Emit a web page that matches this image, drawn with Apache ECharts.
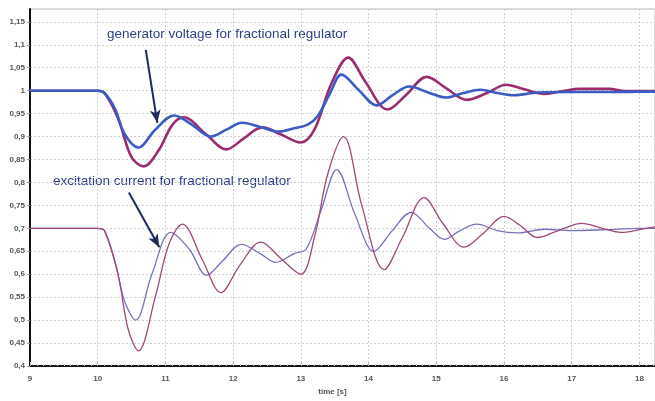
<!DOCTYPE html>
<html>
<head>
<meta charset="utf-8">
<script src="https://cdn.jsdelivr.net/npm/echarts@6/dist/echarts.min.js"></script>
<style>html,body{margin:0;padding:0;background:#fff}#c{width:655px;height:401px}</style>
</head>
<body>
<div id="c"></div>
<script>
// time [s] and values
const voltageBlue = [
  [9,1.0],[10.0,1.0],[10.1,0.995],[10.25,0.962],[10.4,0.905],[10.6,0.876],[10.85,0.915],[11.13,0.946],
  [11.4,0.925],[11.67,0.900],[11.9,0.915],[12.13,0.930],[12.4,0.921],[12.68,0.911],[12.9,0.918],[13.1,0.926],
  [13.25,0.945],[13.42,0.991],[13.6,1.035],[13.85,1.002],[14.12,0.968],[14.35,0.990],[14.6,1.009],[14.9,0.995],
  [15.15,0.985],[15.4,0.995],[15.65,1.002],[15.9,0.995],[16.15,0.990],[16.5,0.996],[17.0,0.997],[17.5,0.997],
  [18.0,0.998],[18.23,0.998]
];
const voltagePurple = [
  [9,1.0],[10.0,1.0],[10.1,0.995],[10.3,0.94],[10.5,0.855],[10.68,0.835],[10.9,0.87],[11.1,0.925],[11.27,0.942],
  [11.6,0.905],[11.9,0.872],[12.15,0.895],[12.43,0.920],[12.7,0.905],[13.0,0.887],[13.2,0.915],[13.45,1.015],
  [13.7,1.072],[13.95,1.020],[14.28,0.959],[14.55,0.990],[14.86,1.030],[15.15,1.005],[15.45,0.980],[15.75,0.995],
  [16.03,1.013],[16.3,1.003],[16.6,0.993],[16.9,1.0],[17.1,1.004],[17.55,1.004],[17.8,0.999],[18.23,0.999]
];
const currentBlue = [
  [9,0.7],[10.0,0.7],[10.1,0.695],[10.25,0.63],[10.4,0.54],[10.56,0.50],[10.8,0.60],[11.08,0.691],[11.35,0.655],
  [11.61,0.598],[11.85,0.630],[12.12,0.665],[12.4,0.645],[12.63,0.626],[12.9,0.645],[13.08,0.655],[13.3,0.74],
  [13.53,0.828],[13.8,0.73],[14.08,0.650],[14.35,0.695],[14.63,0.735],[14.9,0.700],[15.12,0.676],[15.35,0.695],
  [15.6,0.709],[15.9,0.695],[16.2,0.690],[16.6,0.698],[17.0,0.695],[17.5,0.697],[18.0,0.700],[18.23,0.700]
];
const currentPurple = [
  [9,0.7],[10.0,0.7],[10.1,0.695],[10.3,0.60],[10.45,0.48],[10.6,0.433],[10.85,0.55],[11.05,0.665],[11.25,0.709],
  [11.55,0.630],[11.82,0.560],[12.1,0.620],[12.41,0.670],[12.7,0.635],[13.0,0.600],[13.2,0.68],[13.4,0.82],
  [13.63,0.900],[13.9,0.75],[14.23,0.610],[14.5,0.68],[14.82,0.767],[15.1,0.71],[15.41,0.659],[15.7,0.69],
  [16.0,0.726],[16.25,0.705],[16.49,0.680],[16.8,0.695],[17.15,0.711],[17.45,0.700],[17.73,0.691],[18.0,0.697],[18.23,0.703]
];
const voltageArrow = [[10.71,1.089],[10.88,0.930]];
const currentArrow = [[10.46,0.778],[10.91,0.659]];
const labelVoltage = 'generator voltage for fractional regulator';
const labelCurrent = 'excitation current for fractional regulator';
const xName = 'time [s]';

const chart = echarts.init(document.getElementById('c'));
const fmt = v => String(+(+v).toFixed(2)).replace('.', ',');
const arrowLine = (pts) => ({
  silent: true, symbol: ['none', 'arrow'], symbolSize: [8, 13],
  lineStyle: {color: '#1f2a5c', width: 2, type: 'solid'}, label: {show: false},
  data: [[{coord: pts[0]}, {coord: pts[1]}]]
});
chart.setOption({
  animation: false,
  backgroundColor: '#fff',
  grid: {left: 30, right: 0, top: 9, bottom: 34, show: true, borderColor: '#b8b8b8', borderWidth: 1},
  xAxis: {
    type: 'value', min: 9, max: 18.23, interval: 1,
    name: xName, nameLocation: 'middle', nameGap: 22,
    nameTextStyle: {fontSize: 8, color: '#555', fontWeight: 'bold', padding: [0, 20, 0, 0]},
    axisLine: {show: true, onZero: false, lineStyle: {color: '#111', width: 2}},
    axisTick: {show: true, inside: true, length: 4, lineStyle: {color: '#bbb'}},
    minorTick: {show: true, splitNumber: 10, length: 2, lineStyle: {color: '#ccc'}},
    axisLabel: {fontSize: 8, color: '#555', fontWeight: 'bold', margin: 9, showMaxLabel: false},
    splitLine: {show: true, lineStyle: {color: '#cfcfcf', type: [2, 2]}}
  },
  yAxis: {
    type: 'value', min: 0.4, max: 1.178, interval: 0.05,
    axisLine: {show: true, onZero: false, lineStyle: {color: '#111', width: 2}},
    axisTick: {show: true, length: 3, lineStyle: {color: '#999'}},
    axisLabel: {fontSize: 8, color: '#555', fontWeight: 'bold', margin: 5, showMaxLabel: false, formatter: fmt},
    splitLine: {show: true, lineStyle: {color: '#cfcfcf', type: [2, 2]}}
  },
  series: [
    {type: 'line', data: currentBlue, showSymbol: false, smooth: 0.35, lineStyle: {color: '#7472bd', width: 1.3}, z: 2},
    {type: 'line', data: currentPurple, showSymbol: false, smooth: 0.35, lineStyle: {color: '#a0487a', width: 1.3}, z: 2,
      markLine: arrowLine(currentArrow)},
    {type: 'line', data: voltagePurple, showSymbol: false, smooth: 0.35, lineStyle: {color: '#982c6e', width: 2.6}, z: 3},
    {type: 'line', data: voltageBlue, showSymbol: false, smooth: 0.35, lineStyle: {color: '#3a5cc4', width: 2.6}, z: 4,
      markLine: arrowLine(voltageArrow)}
  ],
  graphic: [
    {type: 'text', left: 107, top: 27, style: {text: labelVoltage, font: '13.5px "Liberation Sans", Arial, sans-serif', fill: '#2d3f86'}},
    {type: 'text', left: 53, top: 174, style: {text: labelCurrent, font: '13.5px "Liberation Sans", Arial, sans-serif', fill: '#2d3f86'}}
  ]
});
</script>
</body>
</html>
